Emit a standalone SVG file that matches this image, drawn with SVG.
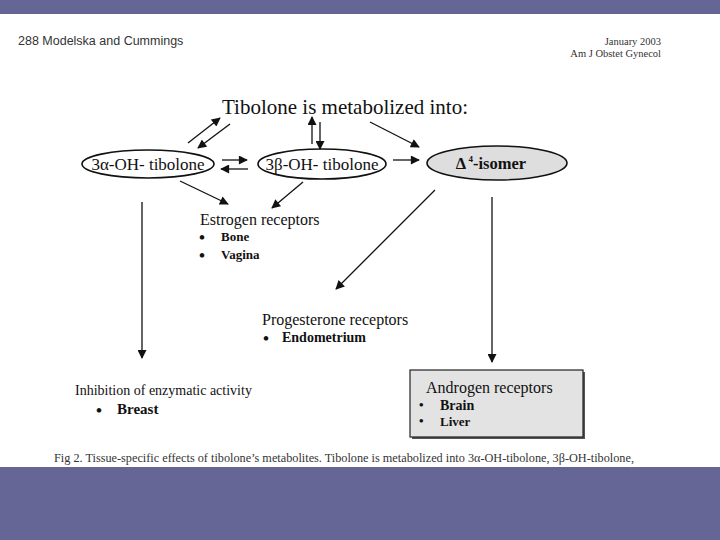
<svg xmlns="http://www.w3.org/2000/svg" width="720" height="540" viewBox="0 0 720 540">
<style>
.serif{font-family:"Liberation Serif","Times New Roman",serif;fill:#111}
.b{font-weight:bold}
.bl{font-family:"Liberation Serif","Times New Roman",serif;fill:#111;font-weight:bold;font-size:17px}
.bs{font-family:"Liberation Serif","Times New Roman",serif;fill:#111;font-weight:bold;font-size:13px}
.ln{stroke:#111;stroke-width:1.3;fill:none}
.el{stroke:#111;stroke-width:1.6;fill:#fff}
</style>
<defs>
<marker id="ah" viewBox="0 0 10 10" refX="9" refY="5" markerWidth="10" markerHeight="9" markerUnits="userSpaceOnUse" orient="auto">
<path d="M0,0 L10,5 L0,10 z" fill="#111"/>
</marker>
</defs>
<rect x="0" y="0" width="720" height="14" fill="#656596"/>
<text x="18" y="45" font-family="Liberation Sans,Arial,sans-serif" font-size="12.5" fill="#333">288  Modelska and Cummings</text>
<text x="661" y="45" class="serif" font-size="10.5" text-anchor="end" style="fill:#333">January 2003</text>
<text x="661" y="57" class="serif" font-size="10.5" text-anchor="end" style="fill:#333">Am J Obstet Gynecol</text>
<g id="title"><text x="222" y="114" class="serif" font-size="21">Tibolone is metabolized into:</text></g>
<g id="n3a"><ellipse cx="148" cy="164" rx="66" ry="14" class="el"/><text x="148" y="170" class="serif" font-size="17" text-anchor="middle">3α-OH- tibolone</text></g>
<g id="n3b"><ellipse cx="322" cy="164" rx="64" ry="15" class="el"/><text x="322" y="170" class="serif" font-size="17" text-anchor="middle">3β-OH- tibolone</text></g>
<g id="n4"><ellipse cx="497" cy="163" rx="70" ry="17" class="el" style="fill:#dedede"/><text x="491" y="169" class="serif b" font-size="16.5" text-anchor="middle">Δ<tspan font-size="9" dy="-7"> 4</tspan><tspan dy="7">-isomer</tspan></text></g>
<g id="estrogen"><text x="200" y="225" class="serif" font-size="16">Estrogen receptors</text>
<text x="199" y="243" class="bl">•</text><text x="221" y="241" class="serif b" font-size="13">Bone</text>
<text x="199" y="261" class="bl">•</text><text x="221" y="259" class="serif b" font-size="13">Vagina</text></g>
<g id="progesterone"><text x="262" y="325" class="serif" font-size="16">Progesterone receptors</text>
<text x="263" y="344" class="bl">•</text><text x="282" y="342" class="serif b" font-size="14">Endometrium</text></g>
<g id="inhibition"><text x="75" y="395" class="serif" font-size="14">Inhibition of enzymatic activity</text>
<text x="96" y="416" class="bl">•</text><text x="117" y="414" class="serif b" font-size="15">Breast</text></g>
<g id="androgen"><rect x="412" y="372" width="173" height="67" fill="#555"/><rect x="410" y="370" width="173" height="67" fill="#e3e3e3" stroke="#222" stroke-width="1.2"/>
<text x="426" y="393" class="serif" font-size="16">Androgen receptors</text>
<text x="419" y="409" class="bs">•</text><text x="440" y="410" class="serif b" font-size="14">Brain</text>
<text x="419" y="425" class="bs">•</text><text x="440" y="426" class="serif b" font-size="13">Liver</text></g>
<g id="connectors">
<line x1="188" y1="143" x2="220" y2="118" class="ln" marker-end="url(#ah)"/>
<line x1="230" y1="124" x2="198" y2="148" class="ln" marker-end="url(#ah)"/>
<line x1="312" y1="144" x2="312" y2="117" class="ln" marker-end="url(#ah)"/>
<line x1="320" y1="122" x2="320" y2="149" class="ln" marker-end="url(#ah)"/>
<line x1="370" y1="122" x2="419" y2="147" class="ln" marker-end="url(#ah)"/>
<line x1="393" y1="160" x2="419" y2="160" class="ln" marker-end="url(#ah)"/>
<line x1="222" y1="160" x2="247" y2="160" class="ln" marker-end="url(#ah)"/>
<line x1="248" y1="169" x2="221" y2="169" class="ln" marker-end="url(#ah)"/>
<line x1="180" y1="181" x2="228" y2="204" class="ln" marker-end="url(#ah)"/>
<line x1="303" y1="182" x2="272" y2="208" class="ln" marker-end="url(#ah)"/>
<line x1="435" y1="190" x2="336" y2="289" class="ln" marker-end="url(#ah)"/>
<line x1="492" y1="197" x2="492" y2="362" class="ln" marker-end="url(#ah)"/>
<line x1="142" y1="202" x2="142" y2="358" class="ln" marker-end="url(#ah)"/>
</g>
<text x="54" y="462" class="serif" font-size="11.5" textLength="580" lengthAdjust="spacingAndGlyphs" style="fill:#333">Fig 2. Tissue-specific effects of tibolone’s metabolites. Tibolone is metabolized into 3α-OH-tibolone, 3β-OH-tibolone,</text>
<rect x="0" y="467" width="720" height="73" fill="#656596"/>
</svg>
